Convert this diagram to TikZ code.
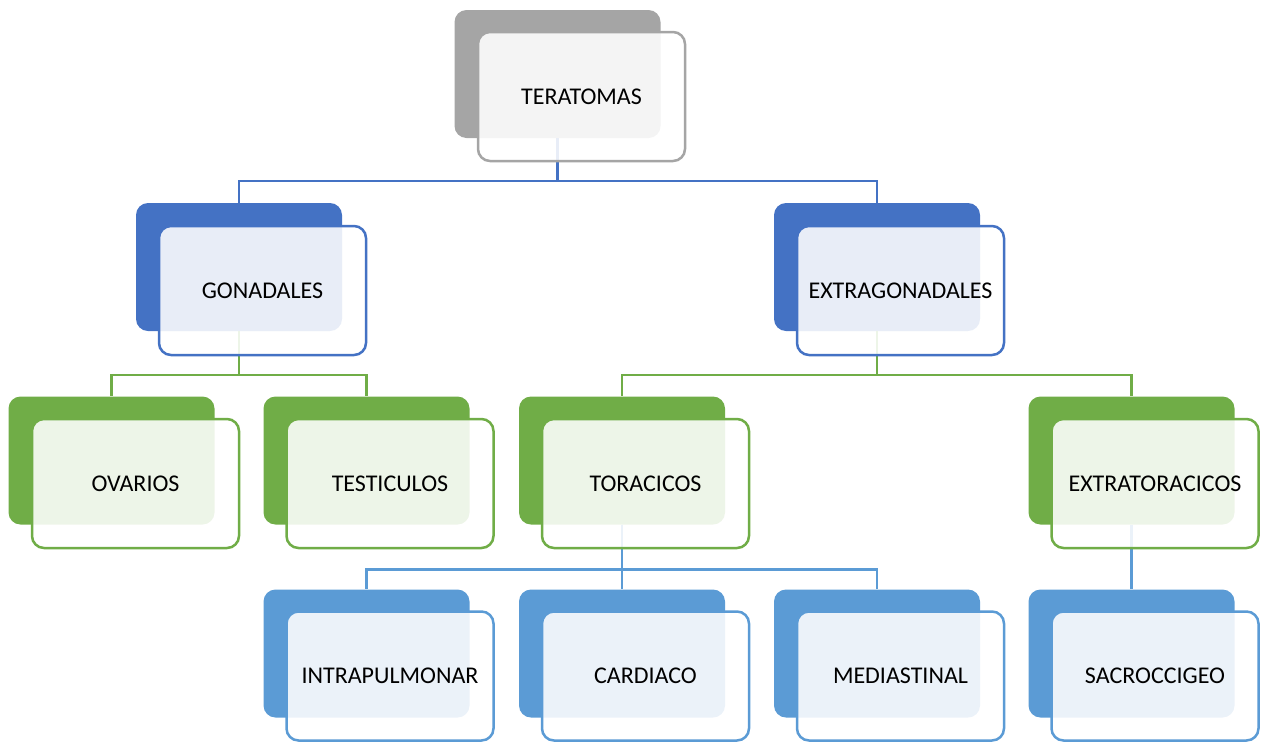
\documentclass[tikz,border=0pt]{standalone}
\usepackage{fontspec}
\setmainfont{Carlito}
\usetikzlibrary{calc}
\definecolor{cgrey}{HTML}{A5A5A5}
\definecolor{cblue}{HTML}{4472C4}
\definecolor{cgreen}{HTML}{70AD47}
\definecolor{clblue}{HTML}{5B9BD5}
\tikzset{
  backbox/.style={rectangle, rounded corners=12pt, fill=#1, draw=none, minimum width=206pt, minimum height=128pt, inner sep=0pt},
  frontbox/.style={rectangle, rounded corners=12pt, draw=#1, line width=2.5pt, fill=white, fill opacity=0.88, text opacity=1, minimum width=207pt, minimum height=129pt, inner sep=0pt, font=\fontsize{24}{28}\selectfont, text=black},
  conn/.style={draw=#1, line width=2.5pt}
}
\begin{document}
\begin{tikzpicture}[x=1pt,y=-1pt]
\useasboundingbox (0,0) rectangle (1264,742);
% back positions
\coordinate (pT) at (557.5,74);
\coordinate (pG) at (239,267);
\coordinate (pE) at (877,267);
\coordinate (pO) at (111.5,460.5);
\coordinate (pTe) at (366.5,460.5);
\coordinate (pTo) at (622,460.5);
\coordinate (pEx) at (1131.5,460.5);
\coordinate (pI) at (366.5,653.5);
\coordinate (pC) at (622,653.5);
\coordinate (pM) at (877,653.5);
\coordinate (pS) at (1131.5,653.5);
% back boxes
\node[backbox=cgrey] (bT) at (pT) {};
\node[backbox=cblue] (bG) at (pG) {};
\node[backbox=cblue] (bE) at (pE) {};
\node[backbox=cgreen] (bO) at (pO) {};
\node[backbox=cgreen] (bTe) at (pTe) {};
\node[backbox=cgreen] (bTo) at (pTo) {};
\node[backbox=cgreen] (bEx) at (pEx) {};
\node[backbox=clblue] (bI) at (pI) {};
\node[backbox=clblue] (bC) at (pC) {};
\node[backbox=clblue] (bM) at (pM) {};
\node[backbox=clblue] (bS) at (pS) {};
% connectors
\draw[conn=cblue] (bT.south) -- ++(0,43) -| (bG.north);
\draw[conn=cblue] (bT.south) -- ++(0,43) -| (bE.north);
\draw[conn=cgreen] (bG.south) -- ++(0,44) -| (bO.north);
\draw[conn=cgreen] (bG.south) -- ++(0,44) -| (bTe.north);
\draw[conn=cgreen] (bE.south) -- ++(0,44) -| (bTo.north);
\draw[conn=cgreen] (bE.south) -- ++(0,44) -| (bEx.north);
\draw[conn=clblue] (bTo.south) -- ++(0,45) -| (bI.north);
\draw[conn=clblue] (bTo.south) -- ++(0,45) -| (bC.north);
\draw[conn=clblue] (bTo.south) -- ++(0,45) -| (bM.north);
\draw[conn=clblue] (bEx.south) -- (bS.north);
% front boxes
\node[frontbox=cgrey] (fT) at ($(pT)+(24,22.5)$) {TERATOMAS};
\node[frontbox=cblue] (fG) at ($(pG)+(23.5,23.5)$) {GONADALES};
\node[frontbox=cblue] (fE) at ($(pE)+(23.5,23.5)$) {EXTRAGONADALES};
\node[frontbox=cgreen] (fO) at ($(pO)+(24,23)$) {OVARIOS};
\node[frontbox=cgreen] (fTe) at ($(pTe)+(23.5,23)$) {TESTICULOS};
\node[frontbox=cgreen] (fTo) at ($(pTo)+(23.5,23)$) {TORACICOS};
\node[frontbox=cgreen] (fEx) at ($(pEx)+(23.5,23)$) {EXTRATORACICOS};
\node[frontbox=clblue] (fI) at ($(pI)+(23.5,22.5)$) {INTRAPULMONAR};
\node[frontbox=clblue] (fC) at ($(pC)+(23.5,22.5)$) {CARDIACO};
\node[frontbox=clblue] (fM) at ($(pM)+(23.5,22.5)$) {MEDIASTINAL};
\node[frontbox=clblue] (fS) at ($(pS)+(23.5,22.5)$) {SACROCCIGEO};
\end{tikzpicture}
\end{document}
